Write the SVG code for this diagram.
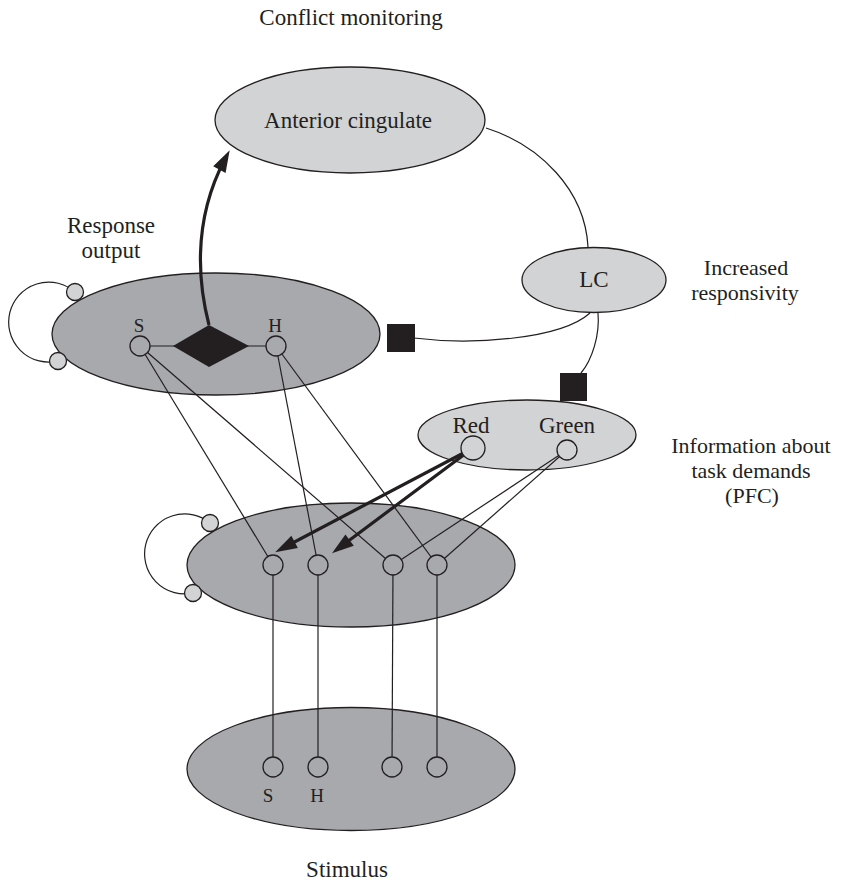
<svg xmlns="http://www.w3.org/2000/svg" width="846" height="884" viewBox="0 0 846 884">
  <style>
    .lbl { font-family: "Liberation Serif", "DejaVu Serif", serif; font-size: 23px; fill: #231f20; text-anchor: middle; }
    .sm { font-size: 19px; }
    .md { font-size: 22px; }
    .dark { fill: #a7a9ac; stroke: #231f20; stroke-width: 1.3; }
    .light { fill: #d1d3d4; stroke: #231f20; stroke-width: 1.3; }
    .unitD { fill: #a7a9ac; stroke: #231f20; stroke-width: 1.3; }
    .unitL { fill: #d1d3d4; stroke: #231f20; stroke-width: 1.3; }
    .wire { fill: none; stroke: #231f20; stroke-width: 1.2; }
    .thick { fill: none; stroke: #231f20; stroke-width: 3.2; }
    .blk { fill: #231f20; }
  </style>
  <defs>
    <marker id="head" markerUnits="userSpaceOnUse" viewBox="0 -8 24 16" refX="12" refY="0" markerWidth="24" markerHeight="16" orient="auto" overflow="visible">
      <path d="M0,-7 L22,0 L0,7 z" fill="#231f20"/>
    </marker>
  </defs>

  <rect width="846" height="884" fill="#ffffff"/>

  <!-- side captions -->
  <g id="captions">
    <text class="lbl" x="351" y="25">Conflict monitoring</text>
    <text class="lbl" x="111" y="233">Response</text>
    <text class="lbl" x="111" y="258">output</text>
    <text class="lbl md" x="746" y="275">Increased</text>
    <text class="lbl md" x="745" y="300">responsivity</text>
    <text class="lbl md" x="751" y="453">Information about</text>
    <text class="lbl md" x="751" y="478">task demands</text>
    <text class="lbl md" x="752" y="503">(PFC)</text>
    <text class="lbl" x="347" y="877">Stimulus</text>
  </g>

  <!-- regions -->
  <g id="anterior-cingulate">
    <ellipse class="light" cx="350" cy="120" rx="135" ry="53"/>
    <text class="lbl" x="348" y="128">Anterior cingulate</text>
  </g>
  <g id="lc">
    <ellipse class="light" cx="594" cy="280" rx="72" ry="32.5"/>
    <text class="lbl" x="594" y="287">LC</text>
  </g>
  <g id="response-layer">
    <ellipse class="dark" cx="216" cy="334" rx="164" ry="61"/>
    <text class="lbl sm" x="139" y="332">S</text>
    <text class="lbl sm" x="275" y="332">H</text>
  </g>
  <g id="task-demand-layer">
    <ellipse class="light" cx="527" cy="435" rx="109" ry="35"/>
    <text class="lbl" x="471" y="433">Red</text>
    <text class="lbl" x="567" y="433">Green</text>
  </g>
  <g id="hidden-layer">
    <ellipse class="dark" cx="351" cy="565" rx="164" ry="62"/>
  </g>
  <g id="stimulus-layer">
    <ellipse class="dark" cx="351" cy="769" rx="164" ry="61.5"/>
    <text class="lbl sm" x="268" y="802">S</text>
    <text class="lbl sm" x="317" y="802">H</text>
  </g>

  <!-- connections -->
  <g id="connectors">
    <!-- recurrent loops -->
    <path class="wire" d="M75,292 A40,40 0 1 0 58,361"/>
    <path class="wire" d="M210,523 A40,40 0 1 0 193,593"/>
    <!-- AC to LC, LC to inhibitory terminals -->
    <path class="wire" d="M486,128 C540,145 585,190 588,247"/>
    <path class="wire" d="M590,313 C560,340 470,345 414,338"/>
    <path class="wire" d="M598,313 C600,335 592,360 581,373"/>
    <!-- response units -->
    <line class="wire" x1="140" y1="346" x2="276" y2="346"/>
    <line class="wire" x1="140" y1="346" x2="273" y2="565"/>
    <line class="wire" x1="140" y1="346" x2="393" y2="565"/>
    <line class="wire" x1="276" y1="346" x2="318" y2="565"/>
    <line class="wire" x1="276" y1="346" x2="437" y2="565"/>
    <!-- task demand units -->
    <line class="wire" x1="567" y1="450" x2="393" y2="565"/>
    <line class="wire" x1="567" y1="450" x2="437" y2="565"/>
    <line class="thick" x1="473" y1="448" x2="284" y2="547.5" marker-end="url(#head)"/>
    <line class="thick" x1="473" y1="448" x2="340" y2="547.2" marker-end="url(#head)"/>
    <!-- stimulus to hidden -->
    <line class="wire" x1="273" y1="565" x2="273" y2="767"/>
    <line class="wire" x1="318" y1="565" x2="318" y2="767"/>
    <line class="wire" x1="393" y1="565" x2="392" y2="767"/>
    <line class="wire" x1="437" y1="565" x2="437" y2="767"/>
    <!-- conflict signal -->
    <path class="thick" d="M209,325 C200,290 190,225 225,159" marker-end="url(#head)"/>
  </g>

  <!-- units -->
  <g id="loop-units">
    <circle class="unitL" cx="75" cy="292" r="8.5"/>
    <circle class="unitL" cx="58" cy="361" r="8.5"/>
    <circle class="unitL" cx="210" cy="523" r="8.5"/>
    <circle class="unitL" cx="193" cy="593" r="8.5"/>
  </g>
  <g id="response-units">
    <circle class="unitD" cx="140" cy="346" r="10"/>
    <circle class="unitD" cx="276" cy="346" r="10"/>
    <polygon class="blk" points="173,346 209,325 249,346 209,367"/>
  </g>
  <g id="task-units">
    <circle class="unitL" cx="473" cy="448" r="12"/>
    <circle class="unitL" cx="567" cy="450" r="10"/>
  </g>
  <g id="hidden-units">
    <circle class="unitD" cx="273" cy="565" r="10"/>
    <circle class="unitD" cx="318" cy="565" r="10"/>
    <circle class="unitD" cx="393" cy="565" r="10"/>
    <circle class="unitD" cx="437" cy="565" r="10"/>
  </g>
  <g id="stimulus-units">
    <circle class="unitD" cx="273" cy="767" r="10"/>
    <circle class="unitD" cx="318" cy="767" r="10"/>
    <circle class="unitD" cx="392" cy="767" r="10"/>
    <circle class="unitD" cx="437" cy="767" r="10"/>
  </g>
  <g id="inhibitory-terminals">
    <rect class="blk" x="387" y="324" width="28" height="28"/>
    <rect class="blk" x="560" y="373" width="27" height="28"/>
  </g>
</svg>
